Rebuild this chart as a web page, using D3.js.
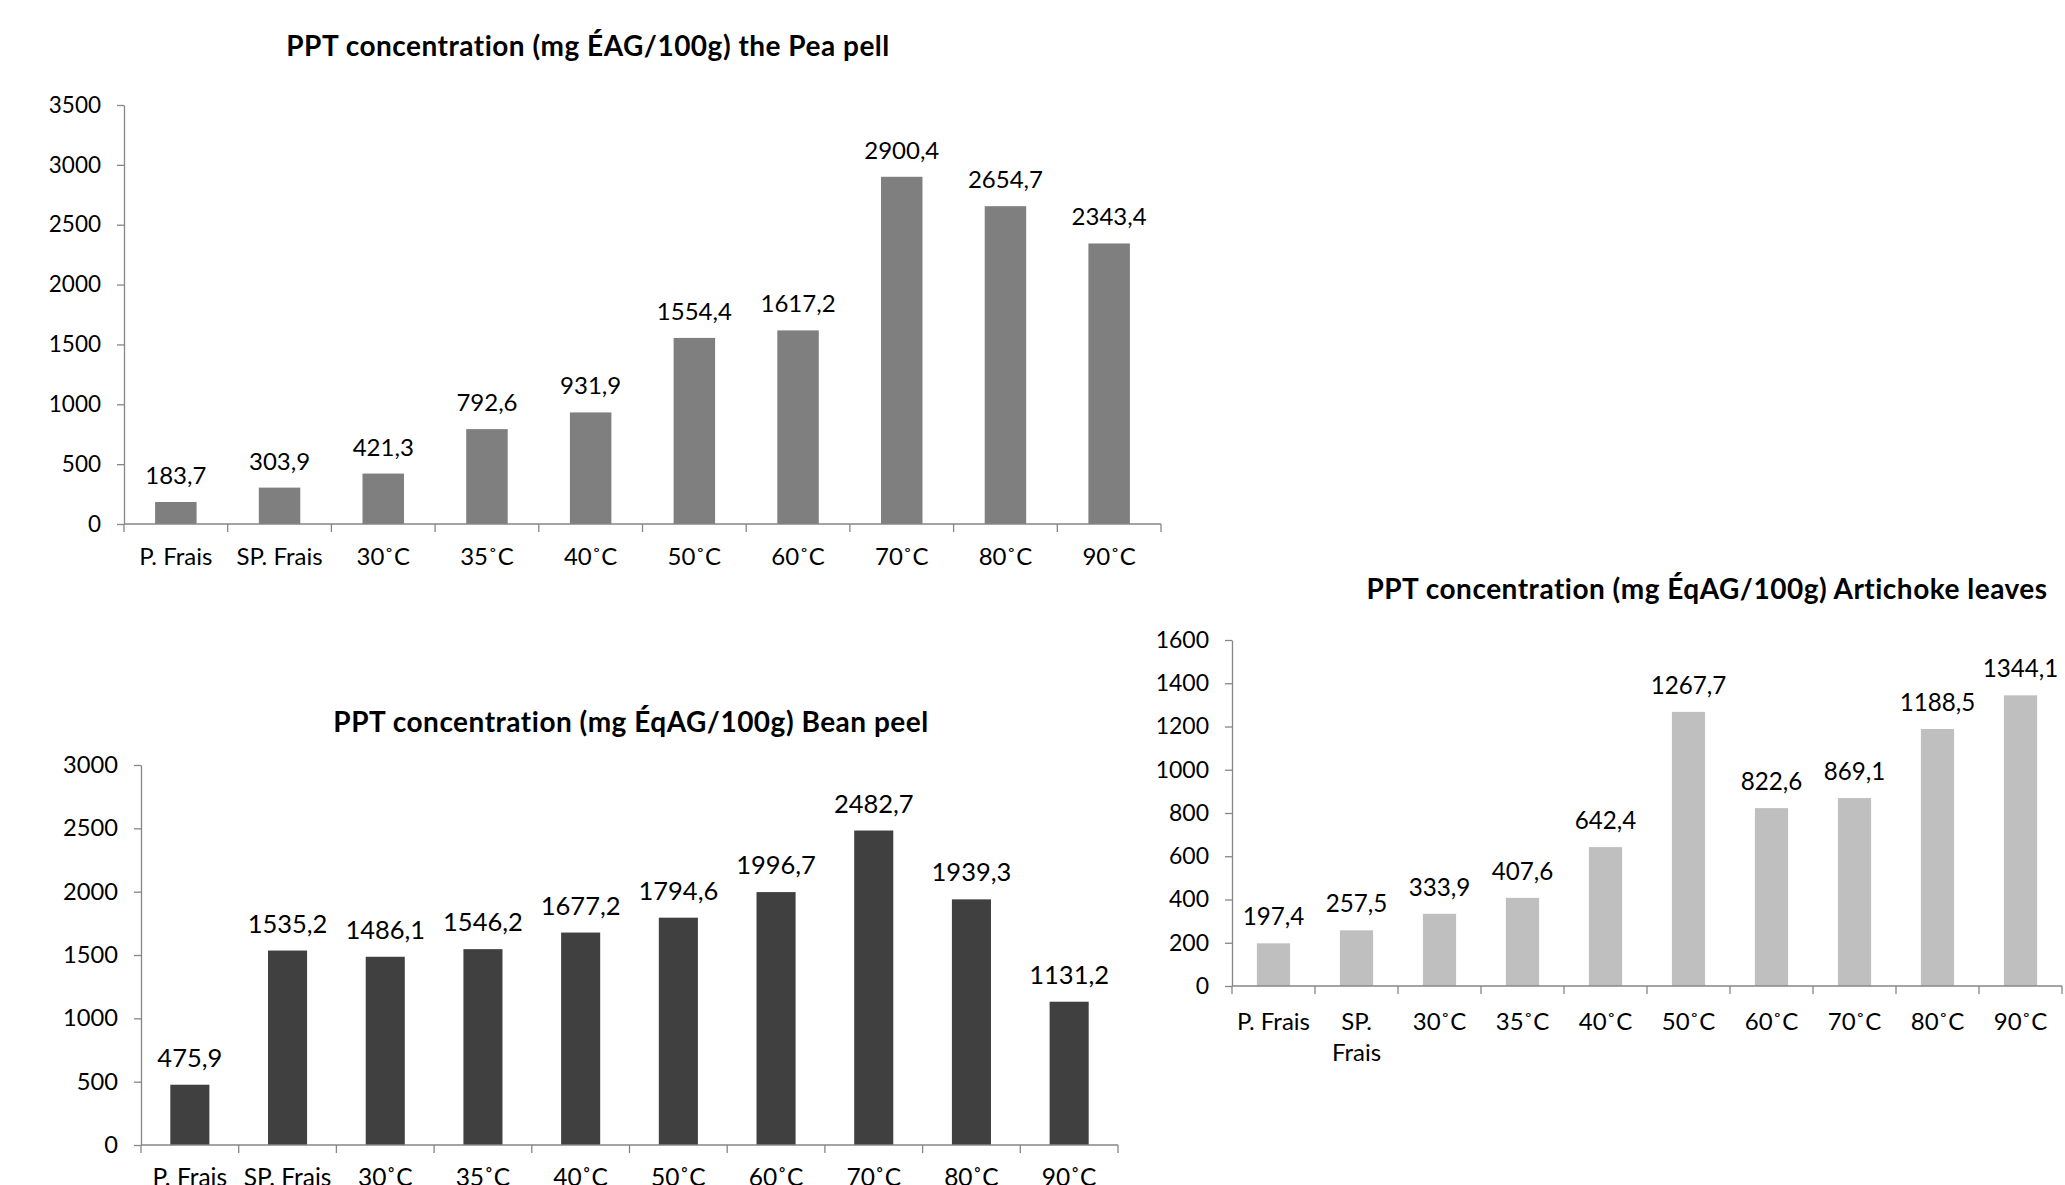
<!DOCTYPE html>
<html>
<head>
<meta charset="utf-8">
<script src="https://cdn.jsdelivr.net/npm/d3@7"></script>
<style>
  body { margin: 0; background: #fff; }
  svg { display: block; font-family: Lato, "Open Sans", sans-serif; }
</style>
</head>
<body>
<svg id="chart" width="2065" height="1185"></svg>
<script>
// Categories shared by all three panels
const categories = ["P. Frais", "SP. Frais", "30˚C", "35˚C", "40˚C", "50˚C", "60˚C", "70˚C", "80˚C", "90˚C"];

// Total polyphenol concentration per sample
const peaValues = [183.7, 303.9, 421.3, 792.6, 931.9, 1554.4, 1617.2, 2900.4, 2654.7, 2343.4];
const beanValues = [475.9, 1535.2, 1486.1, 1546.2, 1677.2, 1794.6, 1996.7, 2482.7, 1939.3, 1131.2];
const artichokeValues = [197.4, 257.5, 333.9, 407.6, 642.4, 1267.7, 822.6, 869.1, 1188.5, 1344.1];

// Axis tick values
const peaTicks = [0, 500, 1000, 1500, 2000, 2500, 3000, 3500];
const beanTicks = [0, 500, 1000, 1500, 2000, 2500, 3000];
const artichokeTicks = [0, 200, 400, 600, 800, 1000, 1200, 1400, 1600];

// Titles
const peaTitle = "PPT concentration (mg ÉAG/100g) the Pea pell";
const beanTitle = "PPT concentration (mg ÉqAG/100g) Bean peel";
const artichokeTitle = "PPT concentration (mg ÉqAG/100g) Artichoke leaves";

const panels = [
  { title: peaTitle, values: peaValues, ticks: peaTicks, color: "#7f7f7f",
    left: 124, right: 1161, top: 105, bottom: 524, titleX: 588, titleY: 56,
    valFont: 24, tickFont: 22.5, catFont: 24, catDy: 41 },
  { title: beanTitle, values: beanValues, ticks: beanTicks, color: "#404040",
    left: 141, right: 1118, top: 765, bottom: 1145, titleX: 631, titleY: 732,
    valFont: 25.5, tickFont: 23.7, catFont: 24.5, catDy: 41 },
  { title: artichokeTitle, values: artichokeValues, ticks: artichokeTicks, color: "#bfbfbf",
    left: 1232, right: 2062, top: 640, bottom: 986, titleX: 1707, titleY: 599,
    valFont: 24.2, tickFont: 23, catFont: 24, catDy: 44 }
];

const axisColor = "#868686";
const locale = d3.formatLocale({ decimal: ",", thousands: "", grouping: [3], currency: ["", ""] });
const fmt = locale.format(".1f");

const svg = d3.select("#chart");

// Wrap a tick label onto several lines when it is wider than the band
function wrap(textSel, width) {
  textSel.each(function () {
    const text = d3.select(this);
    const words = text.text().split(/\s+/);
    const x = text.attr("x");
    const y = text.attr("y");
    text.text(null);
    let line = [];
    let lineNo = 0;
    let tspan = text.append("tspan").attr("x", x).attr("y", y).attr("dy", "0em");
    for (const w of words) {
      line.push(w);
      tspan.text(line.join(" "));
      if (tspan.node().getComputedTextLength() > width && line.length > 1) {
        line.pop();
        tspan.text(line.join(" "));
        line = [w];
        lineNo += 1;
        tspan = text.append("tspan").attr("x", x).attr("y", y)
          .attr("dy", (lineNo * 1.3) + "em").text(w);
      }
    }
  });
}

panels.forEach(p => {
  const g = svg.append("g");

  const x = d3.scaleBand()
    .domain(categories)
    .range([p.left, p.right])
    .paddingInner(0.6)
    .paddingOuter(0.3);

  const y = d3.scaleLinear()
    .domain([0, d3.max(p.ticks)])
    .range([p.bottom, p.top]);

  // Title
  g.append("text")
    .attr("x", p.titleX)
    .attr("y", p.titleY)
    .attr("text-anchor", "middle")
    .attr("font-weight", "bold")
    .attr("font-size", 28)
    .attr("letter-spacing", 0.5)
    .attr("fill", "#000")
    .text(p.title);

  // Bars
  g.selectAll("rect.bar")
    .data(p.values)
    .join("rect")
    .attr("class", "bar")
    .attr("x", (d, i) => x(categories[i]))
    .attr("width", x.bandwidth())
    .attr("y", d => y(d))
    .attr("height", d => y(0) - y(d))
    .attr("fill", p.color);

  // Value labels
  g.selectAll("text.val")
    .data(p.values)
    .join("text")
    .attr("class", "val")
    .attr("x", (d, i) => x(categories[i]) + x.bandwidth() / 2)
    .attr("y", d => y(d) - 18)
    .attr("text-anchor", "middle")
    .attr("font-size", p.valFont)
    .attr("fill", "#000")
    .text(d => fmt(d));

  // Y axis
  const yAxis = g.append("g")
    .attr("transform", `translate(${p.left},0)`)
    .call(d3.axisLeft(y).tickValues(p.ticks).tickFormat(d3.format("d"))
      .tickSize(7).tickSizeOuter(0).tickPadding(16));
  yAxis.select(".domain").attr("stroke", axisColor).attr("stroke-width", 1.3);
  yAxis.selectAll(".tick line").attr("stroke", axisColor).attr("stroke-width", 1.3);
  yAxis.selectAll(".tick text")
    .attr("font-size", p.tickFont)
    .attr("font-family", "Lato, sans-serif")
    .attr("fill", "#000");

  // X axis with ticks on the category boundaries
  const step = x.step();
  const x0 = x.range()[0];
  const bounds = d3.range(categories.length + 1).map(i => x0 + i * step);
  const xAxis = g.append("g");
  xAxis.append("line")
    .attr("x1", p.left).attr("x2", p.right)
    .attr("y1", p.bottom).attr("y2", p.bottom)
    .attr("stroke", axisColor).attr("stroke-width", 1.3);
  xAxis.selectAll("line.tk")
    .data(bounds)
    .join("line")
    .attr("class", "tk")
    .attr("x1", d => d).attr("x2", d => d)
    .attr("y1", p.bottom).attr("y2", p.bottom + 8)
    .attr("stroke", axisColor).attr("stroke-width", 1.3);
  xAxis.selectAll("text.cat")
    .data(categories)
    .join("text")
    .attr("class", "cat")
    .attr("x", d => x(d) + x.bandwidth() / 2)
    .attr("y", p.bottom + p.catDy)
    .attr("text-anchor", "middle")
    .attr("font-size", p.catFont)
    .attr("fill", "#000")
    .text(d => d)
    .call(wrap, step - 4);
});
</script>
</body>
</html>
